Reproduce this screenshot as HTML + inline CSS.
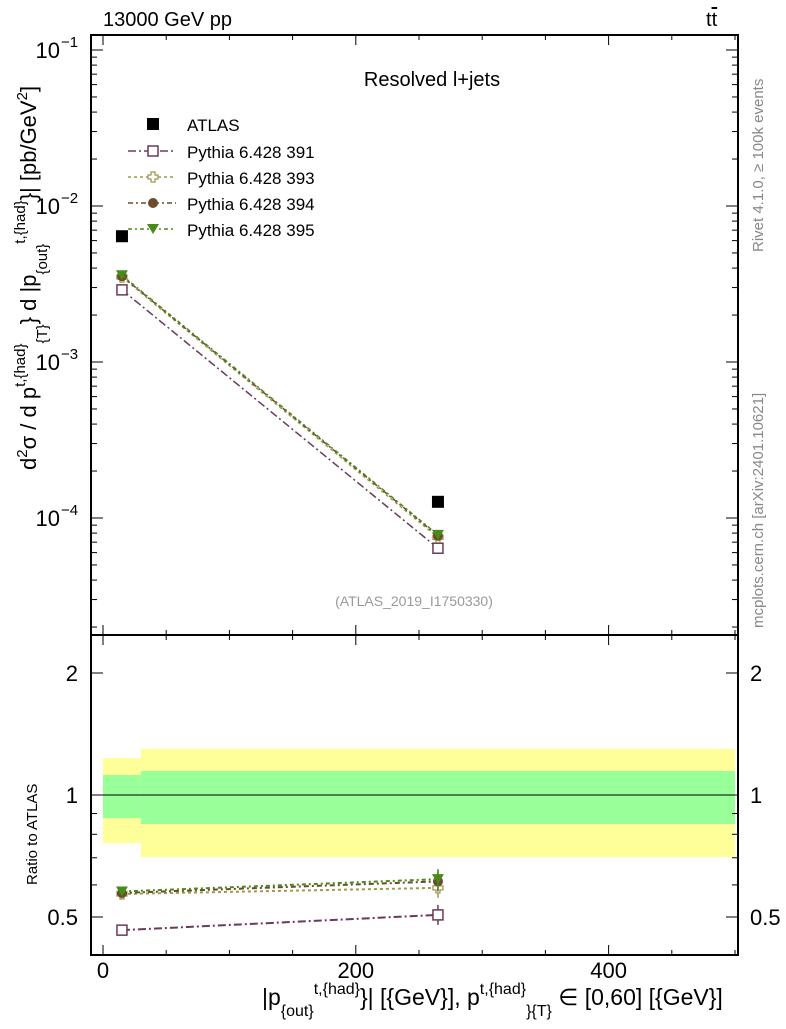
<!DOCTYPE html>
<html><head><meta charset="utf-8"><style>
body{margin:0;background:#fff;font-family:"Liberation Sans",sans-serif}
svg text{font-family:"Liberation Sans",sans-serif}
</style></head><body>
<svg id="c" width="786" height="1024" xmlns="http://www.w3.org/2000/svg">
<g id="g"></g>
</svg>
<script>
const xEdges=[0,30,500];
const xCenters=[15,265];
const atlas=[6.4e-3,1.27e-4];
const seriesNames=["Pythia 6.428 391","Pythia 6.428 393","Pythia 6.428 394","Pythia 6.428 395"];
const s391=[2.9e-3,6.4e-5];
const s393=[3.5e-3,7.5e-5];
const s394=[3.55e-3,7.7e-5];
const s395=[3.6e-3,7.8e-5];
const r391=[0.464,0.506];
const r393=[0.57,0.59];
const r394=[0.573,0.612];
const r395=[0.578,0.62];
const bandYellowLo=[0.761,0.703];
const bandYellowHi=[1.234,1.30];
const bandGreenLo=[0.877,0.848];
const bandGreenHi=[1.12,1.146];
const xTicks=[0,200,400];
const mainTicks=[1e-4,1e-3,1e-2,1e-1];
const mainTickLabels=["10","10","10","10"];
const mainTickExp=["−4","−3","−2","−1"];
const ratioTicks=[0.5,1,2];

const NS="http://www.w3.org/2000/svg";
const G=document.getElementById('g');
function el(t,a,p){const e=document.createElementNS(NS,t);for(const k in a)e.setAttribute(k,a[k]);(p||G).appendChild(e);return e;}
const L=91,R=738,T=35,MB=635,B=955;
const X=v=>103+v*1.264;
const Y=v=>50-(Math.log10(v)+1)*156;
const RY=v=>795-Math.log2(v)*122;

for(let i=0;i<2;i++){
 let e=el('rect',{x:X(xEdges[i]),y:RY(bandYellowHi[i]),width:X(xEdges[i+1])-X(xEdges[i]),height:RY(bandYellowLo[i])-RY(bandYellowHi[i]),fill:'#ffff99'});
 
 e=el('rect',{x:X(xEdges[i]),y:RY(bandGreenHi[i]),width:X(xEdges[i+1])-X(xEdges[i]),height:RY(bandGreenLo[i])-RY(bandGreenHi[i]),fill:'#99ff99'});
 
}
el('line',{x1:L,x2:R,y1:RY(1),y2:RY(1),stroke:'#000','stroke-width':1});

el('rect',{x:L,y:T,width:R-L,height:MB-T,fill:'none',stroke:'#000','stroke-width':2});
el('rect',{x:L,y:MB,width:R-L,height:B-MB,fill:'none',stroke:'#000','stroke-width':2});

for(let v=0;v<=500;v+=50){
 const big=v%200===0;
 for(const [y0,d] of [[MB,-1],[B,-1],[T,1],[MB,1]]){
  el('line',{x1:X(v),x2:X(v),y1:y0,y2:y0+d*(big?10:5),stroke:'#000','stroke-width':1});
 }
}
xTicks.forEach(v=>{const t=el('text',{x:X(v),y:978,'font-size':22,'text-anchor':'middle'});t.textContent=v;
 });

for(let d=-5;d<=-1;d++){for(let m=1;m<10;m++){const v=m*Math.pow(10,d);const y=Y(v);if(y<T||y>MB)continue;
 const w=m===1?12:6;
 el('line',{x1:L,x2:L+w,y1:y,y2:y,stroke:'#000'});el('line',{x1:R,x2:R-w,y1:y,y2:y,stroke:'#000'});}}
mainTicks.forEach((v,i)=>{const t=el('text',{x:60,y:Y(v)+8,'font-size':22,'text-anchor':'end'});t.textContent=mainTickLabels[i];
 
 const s=el('text',{x:61,y:Y(v)-3,'font-size':15});s.textContent=mainTickExp[i];});

[0.5,0.6,0.7,0.8,0.9,1,2].forEach(v=>{const y=RY(v);const w=(v===0.5||v===1||v===2)?12:6;
 el('line',{x1:L,x2:L+w,y1:y,y2:y,stroke:'#000'});el('line',{x1:R,x2:R-w,y1:y,y2:y,stroke:'#000'});});
ratioTicks.forEach(v=>{let t=el('text',{x:78,y:RY(v)+8,'font-size':22,'text-anchor':'end'});t.textContent=v;
 
 t=el('text',{x:750,y:RY(v)+8,'font-size':22});t.textContent=v;
 });

const styles=[
 {c:'#6b3a5a',dash:'8,3,2,3',m:'sq',vals:s391,r:r391},
 {c:'#9a9a50',dash:'3,3,3,3',m:'cross',vals:s393,r:r393},
 {c:'#6b4a2e',dash:'5,3,2,3',m:'circ',vals:s394,r:r394},
 {c:'#4a8a1a',dash:'4,3,2,3',m:'tri',vals:s395,r:r395}];
function marker(m,x,y,c,name){
 let e;
 if(m==='sq')e=el('rect',{x:x-5,y:y-5,width:10,height:10,fill:'#fff',stroke:c,'stroke-width':1.5});
 else if(m==='cross')e=el('path',{d:`M${x-2},${y-5}h4v3h3v4h-3v3h-4v-3h-3v-4h3z`,fill:'#fff',stroke:c,'stroke-width':1.3});
 else if(m==='circ')e=el('circle',{cx:x,cy:y,r:5,fill:c});
 else if(m==='tri')e=el('path',{d:`M${x-6},${y-5}h12l-6,10z`,fill:c});
 else e=el('rect',{x:x-6,y:y-6,width:12,height:12,fill:'#000'});
 
}
styles.forEach((s,k)=>{
 const l=el('polyline',{points:xCenters.map((x,i)=>X(x)+','+Y(s.vals[i])).join(' '),fill:'none',stroke:s.c,'stroke-width':1.5,'stroke-dasharray':s.dash});
 
 const l2=el('polyline',{points:xCenters.map((x,i)=>X(x)+','+RY(s.r[i])).join(' '),fill:'none',stroke:s.c,'stroke-width':2,'stroke-dasharray':s.dash});
 
 xCenters.forEach((x,i)=>{
  if(i===1){el('line',{x1:X(x),x2:X(x),y1:RY(s.r[i])-10,y2:RY(s.r[i])+10,stroke:s.c,'stroke-width':1.5});}
  marker(s.m,X(x),Y(s.vals[i]),s.c,'series-point');
  marker(s.m,X(x),RY(s.r[i]),s.c,'ratio-point');
 });
});
xCenters.forEach((x,i)=>marker('atlas',X(x),Y(atlas[i]),'#000','atlas-point'));

const ly=[124,151,177,203,229];
marker('atlas',153,ly[0],'#000','legend-marker-atlas');
let t=el('text',{x:187,y:ly[0]+7,'font-size':17});t.textContent='ATLAS';
styles.forEach((s,k)=>{const y=ly[k+1];
 el('line',{x1:128,x2:176,y1:y,y2:y,stroke:s.c,'stroke-width':1.5,'stroke-dasharray':s.dash});
 marker(s.m,153,y,s.c,'legend-marker');
 const t=el('text',{x:187,y:y+7,'font-size':17});t.textContent=seriesNames[k];
 });

function txt(x,y,s,sz,extra,name){const t=el('text',Object.assign({x:x,y:y,'font-size':sz},extra||{}));t.innerHTML=s;return t;}
txt(103,26,'13000 GeV pp',20,{},'title-left');
txt(706,26,'t<tspan text-decoration="overline">t</tspan>',20,{},'title-right');
txt(432,86,'Resolved l+jets',20,{'text-anchor':'middle'},'plot-title');
txt(414,606,'(ATLAS_2019_I1750330)',14,{'text-anchor':'middle',fill:'#999'},'analysis-label');
txt(0,0,'Rivet 4.1.0, ≥ 100k events',15,{transform:'translate(763,252) rotate(-90)',fill:'#888'},'rivet-label');
txt(0,0,'mcplots.cern.ch [arXiv:2401.10621]',15,{transform:'translate(763,628) rotate(-90)',fill:'#888'},'mcplots-label');
txt(0,0,'Ratio to ATLAS',15,{transform:'translate(37,885) rotate(-90)'},'ratio-y-title');
txt(0,0,'d<tspan dy="-9" font-size="15">2</tspan><tspan dy="9">σ / d p</tspan><tspan dy="-11" font-size="15">t,{had}</tspan><tspan dy="22" font-size="15">{T}</tspan><tspan dy="-11">} d |p</tspan><tspan dy="11" font-size="15">{out}</tspan><tspan dy="-22" font-size="15">t,{had}</tspan><tspan dy="11">}| [pb/GeV</tspan><tspan dy="-9" font-size="15">2</tspan><tspan dy="9">]</tspan>',22,{transform:'translate(36,470) rotate(-90)'},'y-axis-title');
txt(262,1005,'|p<tspan dy="11" font-size="16">{out}</tspan><tspan dy="-22" font-size="16">t,{had}</tspan><tspan dy="11">}| [{GeV}], p</tspan><tspan dy="-11" font-size="16">t,{had}</tspan><tspan dy="22" font-size="16">}{T}</tspan><tspan dy="-11"> ∈ [0,60] [{GeV}]</tspan>',23,{},'x-axis-title');
</script>
</body></html>
